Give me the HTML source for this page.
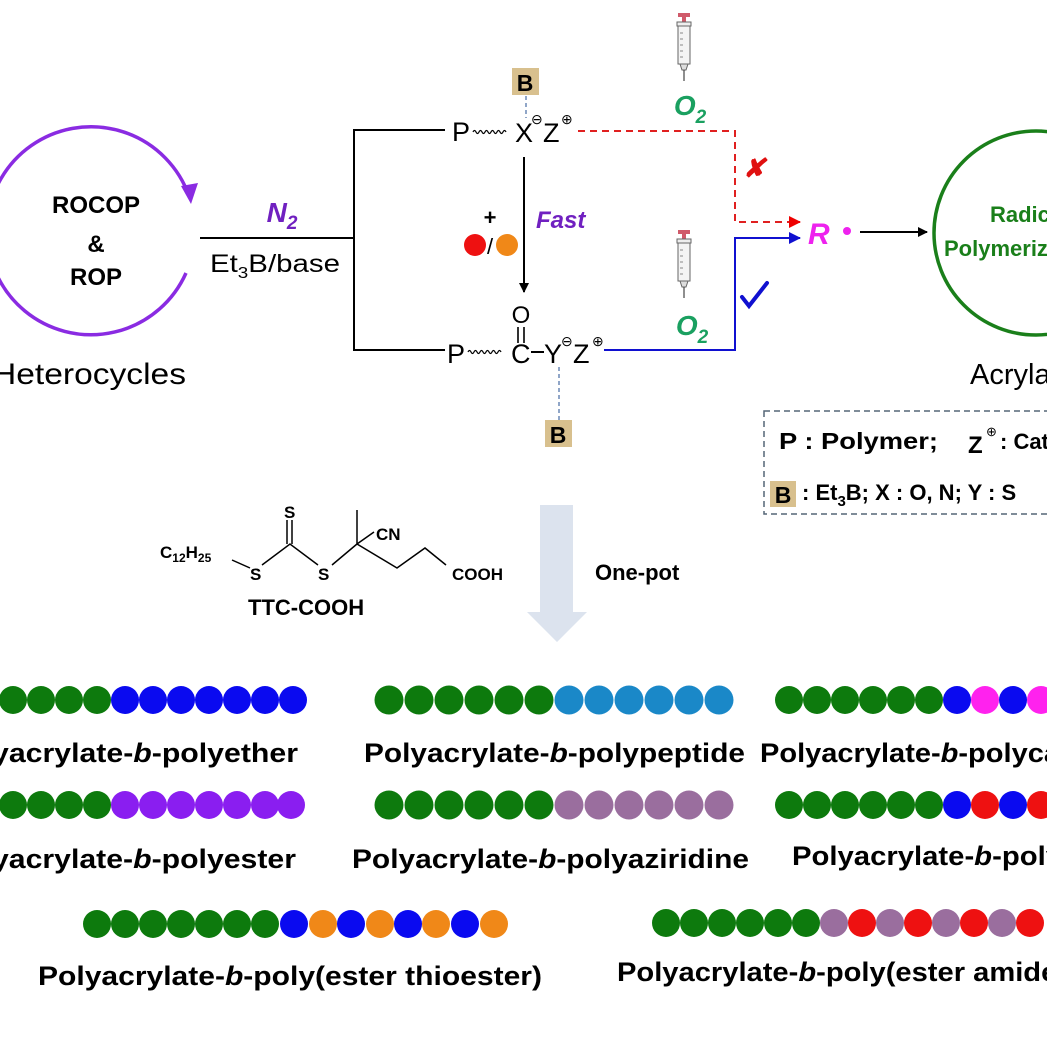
<!DOCTYPE html>
<html><head><meta charset="utf-8"><style>
html,body{margin:0;padding:0;background:#fff;}
svg{display:block;font-family:"Liberation Sans",Arial,sans-serif;}
</style></head><body>
<svg width="1047" height="1046" viewBox="0 0 1047 1046" xmlns="http://www.w3.org/2000/svg">
<defs>
<marker id="ab" markerWidth="10" markerHeight="10" refX="9" refY="5" orient="auto" markerUnits="userSpaceOnUse"><path d="M0,0 L10,5 L0,10 Z" fill="#000"/></marker>
<marker id="ar" markerWidth="12" markerHeight="12" refX="11" refY="6" orient="auto" markerUnits="userSpaceOnUse"><path d="M0,0 L12,6 L0,12 Z" fill="#e00"/></marker>
<marker id="abl" markerWidth="12" markerHeight="12" refX="11" refY="6" orient="auto" markerUnits="userSpaceOnUse"><path d="M0,0 L12,6 L0,12 Z" fill="#1010d0"/></marker>
<g id="syr">
<rect x="-6" y="0" width="12" height="4" fill="#d05a6a"/><rect x="-2" y="4" width="4" height="5" fill="#d05a6a"/>
<rect x="-7" y="9" width="14" height="4" fill="#eee" stroke="#666" stroke-width="1"/>
<rect x="-6" y="13" width="12" height="38" fill="#f4f4f4" stroke="#666" stroke-width="1"/>
<path d="M-4,20 h3 M-4,26 h3 M-4,32 h3 M-4,38 h3 M-4,44 h3" stroke="#666" stroke-width="0.8"/>
<path d="M-4,51 L-2,57 L2,57 L4,51 Z" fill="#ddd" stroke="#666" stroke-width="1"/>
<line x1="0" y1="57" x2="0" y2="68" stroke="#444" stroke-width="1.2"/>
</g>
</defs>

<path d="M186,273 A104,104 0 1 1 189,196" fill="none" stroke="#8a2be2" stroke-width="3.5"/>
<path d="M181,186 L198,183 L191,204 Z" fill="#8a2be2"/>
<g font-weight="bold" font-size="24" text-anchor="middle" fill="#000">
<text x="96" y="213">ROCOP</text><text x="96" y="252">&amp;</text><text x="96" y="285">ROP</text>
</g>
<text x="-8" y="384" font-size="30" textLength="194" lengthAdjust="spacingAndGlyphs">Heterocycles</text>

<line x1="200" y1="238" x2="355" y2="238" stroke="#000" stroke-width="2"/>
<text x="282" y="222" font-size="28" font-weight="bold" font-style="italic" fill="#7020c0" text-anchor="middle">N<tspan font-size="19" dy="7">2</tspan></text>
<text x="210" y="272" font-size="25" textLength="130" lengthAdjust="spacingAndGlyphs">Et<tspan font-size="16" dy="6">3</tspan><tspan dy="-6">B/base</tspan></text>

<path d="M445,130 H354 V350 H445" fill="none" stroke="#000" stroke-width="2"/>
<text x="452" y="141" font-size="27">P</text>
<path d="M473,132 q1.5,-3 3,0 t3,0 t3,0 t3,0 t3,0 t3,0 t3,0 t3,0 t3,0 t3,0 t3,0" fill="none" stroke="#000" stroke-width="1.2"/>
<text x="515" y="142" font-size="27">X</text>
<text x="531" y="124" font-size="14">⊖</text>
<text x="543" y="142" font-size="27">Z</text>
<text x="561" y="124" font-size="14">⊕</text>
<rect x="512" y="68" width="27" height="27" fill="#d8c08e"/>
<text x="525" y="91" font-size="23" font-weight="bold" text-anchor="middle">B</text>
<line x1="526" y1="96" x2="526" y2="118" stroke="#5577aa" stroke-width="1.3" stroke-dasharray="4,3"/>

<path d="M578,131 H735 V222 H800" fill="none" stroke="#e02020" stroke-width="2" stroke-dasharray="7,5" marker-end="url(#ar)"/>
<text x="754" y="177" font-size="26" font-weight="bold" fill="#e01010" text-anchor="middle" font-style="italic">✘</text>
<use href="#syr" x="684" y="13"/>
<text x="690" y="115" font-size="28" font-weight="bold" font-style="italic" fill="#1aa060" text-anchor="middle">O<tspan font-size="19" dy="8">2</tspan></text>

<line x1="524" y1="157" x2="524" y2="292" stroke="#000" stroke-width="2" marker-end="url(#ab)"/>
<text x="490" y="225" font-size="22" font-weight="bold" text-anchor="middle">+</text>
<circle cx="475" cy="245" r="11" fill="#ee1111"/>
<text x="487" y="254" font-size="22">/</text>
<circle cx="507" cy="245" r="11" fill="#f08818"/>
<text x="536" y="228" font-size="24" font-weight="bold" font-style="italic" fill="#7020c0">Fast</text>

<text x="521" y="323" font-size="24" text-anchor="middle">O</text>
<path d="M518,327 V343 M524,327 V343" stroke="#000" stroke-width="1.6"/>
<text x="447" y="363" font-size="27">P</text>
<path d="M468,352 q1.5,-3 3,0 t3,0 t3,0 t3,0 t3,0 t3,0 t3,0 t3,0 t3,0 t3,0 t3,0" fill="none" stroke="#000" stroke-width="1.2"/>
<text x="511" y="363" font-size="27">C</text>
<line x1="531" y1="352" x2="544" y2="352" stroke="#000" stroke-width="2"/>
<text x="544" y="363" font-size="27">Y</text>
<text x="561" y="346" font-size="14">⊖</text>
<text x="573" y="363" font-size="27">Z</text>
<text x="592" y="346" font-size="14">⊕</text>
<line x1="559" y1="367" x2="559" y2="420" stroke="#5577aa" stroke-width="1.3" stroke-dasharray="4,3"/>
<rect x="545" y="420" width="27" height="27" fill="#d8c08e"/>
<text x="558" y="443" font-size="23" font-weight="bold" text-anchor="middle">B</text>

<path d="M604,350 H735 V238 H800" fill="none" stroke="#1010d0" stroke-width="2" marker-end="url(#abl)"/>
<path d="M742,297 L749,306 L767,283" fill="none" stroke="#1010d0" stroke-width="4" stroke-linecap="round"/>
<use href="#syr" x="684" y="230"/>
<text x="692" y="335" font-size="28" font-weight="bold" font-style="italic" fill="#1aa060" text-anchor="middle">O<tspan font-size="19" dy="8">2</tspan></text>

<text x="808" y="244" font-size="30" font-weight="bold" font-style="italic" fill="#ee22ee">R</text>
<circle cx="847" cy="231" r="4" fill="#ee22ee"/>
<line x1="860" y1="232" x2="927" y2="232" stroke="#000" stroke-width="2" marker-end="url(#ab)"/>

<circle cx="1036" cy="233" r="102" fill="none" stroke="#1a7f1a" stroke-width="3.5"/>
<text x="990" y="222" font-size="22" font-weight="bold" fill="#1a7f1a">Radical</text>
<text x="944" y="256" font-size="22" font-weight="bold" fill="#1a7f1a">Polymerization</text>
<text x="970" y="384" font-size="29">Acrylates</text>

<rect x="764" y="411" width="300" height="103" fill="none" stroke="#556677" stroke-width="1.5" stroke-dasharray="6,4"/>
<text x="779" y="449" font-size="23" font-weight="bold" textLength="159" lengthAdjust="spacingAndGlyphs">P : Polymer;</text>
<text x="968" y="453" font-size="24" font-weight="bold">Z</text>
<text x="986" y="436" font-size="13">⊕</text>
<text x="1000" y="449" font-size="22" font-weight="bold">: Cation</text>
<rect x="770" y="481" width="26" height="26" fill="#d8c08e"/>
<text x="783" y="503" font-size="23" font-weight="bold" text-anchor="middle">B</text>
<text x="802" y="500" font-size="22" font-weight="bold">: Et<tspan font-size="15" dy="6">3</tspan><tspan dy="-6">B;  X : O, N;  Y : S</tspan></text>

<g stroke="#000" stroke-width="1.5" fill="none">
<path d="M287,520 V544 M292,520 V544"/>
<path d="M232,560 L250,568"/>
<path d="M262,565 L290,544 L318,565"/>
<path d="M332,565 L357,544 V510 M357,544 L374,532 M357,544 L397,568 L425,548 L446,565"/>
</g>
<g font-size="17" font-weight="bold">
<text x="284" y="518">S</text>
<text x="160" y="558">C<tspan font-size="12" dy="4">12</tspan><tspan dy="-4">H</tspan><tspan font-size="12" dy="4">25</tspan></text>
<text x="250" y="580">S</text>
<text x="318" y="580">S</text>
<text x="376" y="540">CN</text>
<text x="452" y="580">COOH</text>
</g>
<text x="248" y="615" font-size="22" font-weight="bold">TTC-COOH</text>

<path d="M540,505 H573 V612 H587 L557,642 L527,612 H540 Z" fill="#dce3ee"/>
<text x="595" y="580" font-size="22" font-weight="bold">One-pot</text>

<g>
<circle cx="13" cy="700" r="14" fill="#0d7a0d"/><circle cx="41" cy="700" r="14" fill="#0d7a0d"/><circle cx="69" cy="700" r="14" fill="#0d7a0d"/><circle cx="97" cy="700" r="14" fill="#0d7a0d"/>
<circle cx="125" cy="700" r="14" fill="#0a0af0"/><circle cx="153" cy="700" r="14" fill="#0a0af0"/><circle cx="181" cy="700" r="14" fill="#0a0af0"/><circle cx="209" cy="700" r="14" fill="#0a0af0"/><circle cx="237" cy="700" r="14" fill="#0a0af0"/><circle cx="265" cy="700" r="14" fill="#0a0af0"/><circle cx="293" cy="700" r="14" fill="#0a0af0"/>

<circle cx="389" cy="700" r="14.5" fill="#0d7a0d"/><circle cx="419" cy="700" r="14.5" fill="#0d7a0d"/><circle cx="449" cy="700" r="14.5" fill="#0d7a0d"/><circle cx="479" cy="700" r="14.5" fill="#0d7a0d"/><circle cx="509" cy="700" r="14.5" fill="#0d7a0d"/><circle cx="539" cy="700" r="14.5" fill="#0d7a0d"/>
<circle cx="569" cy="700" r="14.5" fill="#1a88c8"/><circle cx="599" cy="700" r="14.5" fill="#1a88c8"/><circle cx="629" cy="700" r="14.5" fill="#1a88c8"/><circle cx="659" cy="700" r="14.5" fill="#1a88c8"/><circle cx="689" cy="700" r="14.5" fill="#1a88c8"/><circle cx="719" cy="700" r="14.5" fill="#1a88c8"/>

<circle cx="789" cy="700" r="14" fill="#0d7a0d"/><circle cx="817" cy="700" r="14" fill="#0d7a0d"/><circle cx="845" cy="700" r="14" fill="#0d7a0d"/><circle cx="873" cy="700" r="14" fill="#0d7a0d"/><circle cx="901" cy="700" r="14" fill="#0d7a0d"/><circle cx="929" cy="700" r="14" fill="#0d7a0d"/>
<circle cx="957" cy="700" r="14" fill="#0a0af0"/><circle cx="985" cy="700" r="14" fill="#ff22ee"/><circle cx="1013" cy="700" r="14" fill="#0a0af0"/><circle cx="1041" cy="700" r="14" fill="#ff22ee"/>

<circle cx="13" cy="805" r="14" fill="#0d7a0d"/><circle cx="41" cy="805" r="14" fill="#0d7a0d"/><circle cx="69" cy="805" r="14" fill="#0d7a0d"/><circle cx="97" cy="805" r="14" fill="#0d7a0d"/>
<circle cx="125" cy="805" r="14" fill="#8a1ef0"/><circle cx="153" cy="805" r="14" fill="#8a1ef0"/><circle cx="181" cy="805" r="14" fill="#8a1ef0"/><circle cx="209" cy="805" r="14" fill="#8a1ef0"/><circle cx="237" cy="805" r="14" fill="#8a1ef0"/><circle cx="265" cy="805" r="14" fill="#8a1ef0"/><circle cx="291" cy="805" r="14" fill="#8a1ef0"/>

<circle cx="389" cy="805" r="14.5" fill="#0d7a0d"/><circle cx="419" cy="805" r="14.5" fill="#0d7a0d"/><circle cx="449" cy="805" r="14.5" fill="#0d7a0d"/><circle cx="479" cy="805" r="14.5" fill="#0d7a0d"/><circle cx="509" cy="805" r="14.5" fill="#0d7a0d"/><circle cx="539" cy="805" r="14.5" fill="#0d7a0d"/>
<circle cx="569" cy="805" r="14.5" fill="#9a6e9e"/><circle cx="599" cy="805" r="14.5" fill="#9a6e9e"/><circle cx="629" cy="805" r="14.5" fill="#9a6e9e"/><circle cx="659" cy="805" r="14.5" fill="#9a6e9e"/><circle cx="689" cy="805" r="14.5" fill="#9a6e9e"/><circle cx="719" cy="805" r="14.5" fill="#9a6e9e"/>

<circle cx="789" cy="805" r="14" fill="#0d7a0d"/><circle cx="817" cy="805" r="14" fill="#0d7a0d"/><circle cx="845" cy="805" r="14" fill="#0d7a0d"/><circle cx="873" cy="805" r="14" fill="#0d7a0d"/><circle cx="901" cy="805" r="14" fill="#0d7a0d"/><circle cx="929" cy="805" r="14" fill="#0d7a0d"/>
<circle cx="957" cy="805" r="14" fill="#0a0af0"/><circle cx="985" cy="805" r="14" fill="#ee1111"/><circle cx="1013" cy="805" r="14" fill="#0a0af0"/><circle cx="1041" cy="805" r="14" fill="#ee1111"/>

<circle cx="97" cy="924" r="14" fill="#0d7a0d"/><circle cx="125" cy="924" r="14" fill="#0d7a0d"/><circle cx="153" cy="924" r="14" fill="#0d7a0d"/><circle cx="181" cy="924" r="14" fill="#0d7a0d"/><circle cx="209" cy="924" r="14" fill="#0d7a0d"/><circle cx="237" cy="924" r="14" fill="#0d7a0d"/><circle cx="265" cy="924" r="14" fill="#0d7a0d"/>
<circle cx="294" cy="924" r="14" fill="#0a0af0"/><circle cx="323" cy="924" r="14" fill="#f08818"/><circle cx="351" cy="924" r="14" fill="#0a0af0"/><circle cx="380" cy="924" r="14" fill="#f08818"/><circle cx="408" cy="924" r="14" fill="#0a0af0"/><circle cx="436" cy="924" r="14" fill="#f08818"/><circle cx="465" cy="924" r="14" fill="#0a0af0"/><circle cx="494" cy="924" r="14" fill="#f08818"/>

<circle cx="666" cy="923" r="14" fill="#0d7a0d"/><circle cx="694" cy="923" r="14" fill="#0d7a0d"/><circle cx="722" cy="923" r="14" fill="#0d7a0d"/><circle cx="750" cy="923" r="14" fill="#0d7a0d"/><circle cx="778" cy="923" r="14" fill="#0d7a0d"/><circle cx="806" cy="923" r="14" fill="#0d7a0d"/>
<circle cx="834" cy="923" r="14" fill="#9a6e9e"/><circle cx="862" cy="923" r="14" fill="#ee1111"/><circle cx="890" cy="923" r="14" fill="#9a6e9e"/><circle cx="918" cy="923" r="14" fill="#ee1111"/><circle cx="946" cy="923" r="14" fill="#9a6e9e"/><circle cx="974" cy="923" r="14" fill="#ee1111"/><circle cx="1002" cy="923" r="14" fill="#9a6e9e"/><circle cx="1030" cy="923" r="14" fill="#ee1111"/>
</g>

<g font-size="27" font-weight="bold" fill="#000">
<text x="-8" y="762" textLength="306" lengthAdjust="spacingAndGlyphs">yacrylate-<tspan font-style="italic">b</tspan>-polyether</text>
<text x="364" y="762" textLength="381" lengthAdjust="spacingAndGlyphs">Polyacrylate-<tspan font-style="italic">b</tspan>-polypeptide</text>
<text x="760" y="762" textLength="300" lengthAdjust="spacingAndGlyphs">Polyacrylate-<tspan font-style="italic">b</tspan>-polyca</text>
<text x="-8" y="868" textLength="304" lengthAdjust="spacingAndGlyphs">yacrylate-<tspan font-style="italic">b</tspan>-polyester</text>
<text x="352" y="868" textLength="397" lengthAdjust="spacingAndGlyphs">Polyacrylate-<tspan font-style="italic">b</tspan>-polyaziridine</text>
<text x="792" y="865" textLength="270" lengthAdjust="spacingAndGlyphs">Polyacrylate-<tspan font-style="italic">b</tspan>-poly</text>
<text x="38" y="985" textLength="504" lengthAdjust="spacingAndGlyphs">Polyacrylate-<tspan font-style="italic">b</tspan>-poly(ester thioester)</text>
<text x="617" y="981" textLength="450" lengthAdjust="spacingAndGlyphs">Polyacrylate-<tspan font-style="italic">b</tspan>-poly(ester amide)</text>
</g>
</svg>
</body></html>
